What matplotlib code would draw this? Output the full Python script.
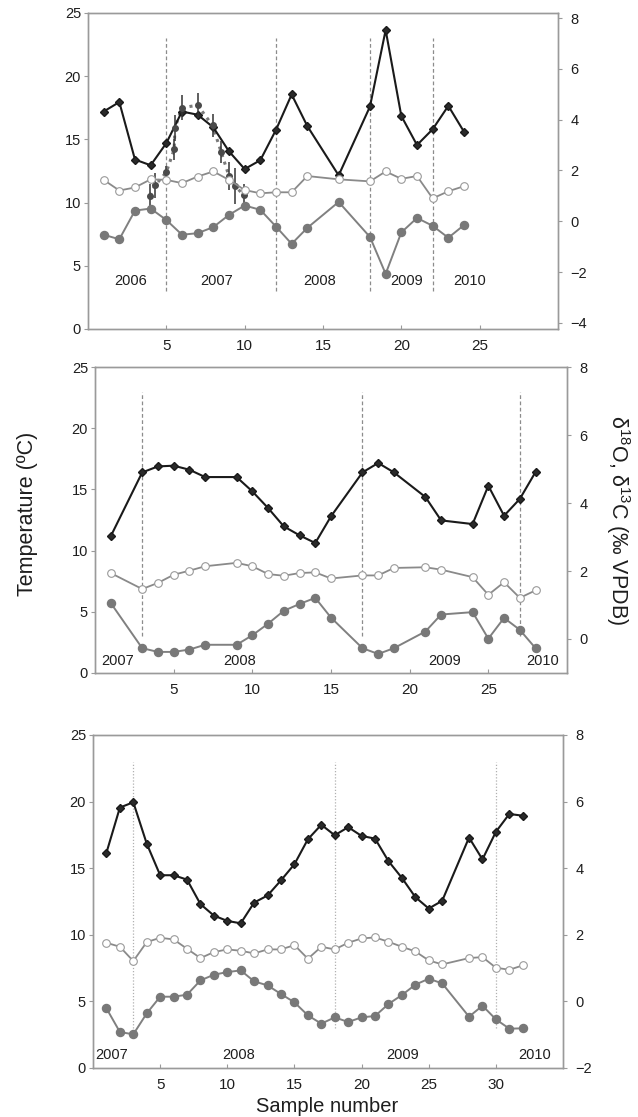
import matplotlib
matplotlib.use('Agg')
import matplotlib.pyplot as plt

plt.rcParams['font.family'] = ['Liberation Sans', 'DejaVu Sans']
plt.rcParams['mathtext.default'] = 'regular'

# ---- panel 1 ----
p1_x = [1, 2, 3, 4, 5, 6, 7, 8, 9, 10, 11, 12, 13, 14, 16, 18, 19, 20, 21, 22, 23, 24]
p1_temp = [17.2, 17.95, 13.4, 12.95, 14.7, 17.2, 16.95, 15.95, 14.05, 12.65, 13.35,
           15.75, 18.55, 16.05, 12.15, 17.6, 23.65, 16.85, 14.55, 15.8, 17.65, 15.6]
p1_d13c = [1.63, 1.21, 1.33, 1.65, 1.63, 1.50, 1.76, 1.96, 1.63, 1.23, 1.10,
           1.14, 1.14, 1.78, 1.65, 1.57, 1.96, 1.67, 1.78, 0.90, 1.18, 1.38]
p1_d18o = [-0.53, -0.71, 0.42, 0.50, 0.05, -0.53, -0.47, -0.23, 0.25, 0.62, 0.45,
           -0.21, -0.89, -0.26, 0.76, -0.62, -2.07, -0.44, 0.13, -0.18, -0.65, -0.15]
# measured temperature with error bars (panel 1 only)
p1_meas_x = [3.96, 4.28, 5.0, 5.5, 5.55, 6.0, 7.0, 7.95, 8.5, 9.0, 9.4, 9.93]
p1_meas_t = [10.55, 11.35, 12.4, 14.2, 15.9, 17.5, 17.7, 16.1, 14.0, 12.1, 11.3, 10.6]
p1_meas_err = [0.9, 1.0, 0.5, 0.8, 1.0, 1.0, 1.0, 0.9, 0.9, 1.1, 1.4, 0.9]
p1_bounds = [5, 12, 18, 22]
p1_years = ['2006', '2007', '2008', '2009', '2010']
p1_year_x = [2.73, 8.2, 14.76, 20.36, 24.35]

# ---- panel 2 ----
p2_x = [1, 3, 4, 5, 6, 7, 9, 10, 11, 12, 13, 14, 15, 17, 18, 19, 21, 22, 24, 25, 26, 27, 28]
p2_temp = [11.17, 16.39, 16.88, 16.94, 16.61, 16.01, 16.01, 14.84, 13.48, 11.98, 11.25,
           10.62, 12.8, 16.39, 17.16, 16.39, 14.38, 12.47, 12.17, 15.3, 12.85, 14.22, 16.42]
p2_d13c = [1.94, 1.47, 1.65, 1.89, 2.01, 2.14, 2.24, 2.14, 1.91, 1.86, 1.94, 1.96,
           1.78, 1.87, 1.87, 2.09, 2.11, 2.04, 1.82, 1.30, 1.67, 1.21, 1.43]
p2_d18o = [1.06, -0.27, -0.38, -0.38, -0.31, -0.17, -0.17, 0.11, 0.45, 0.83, 1.03, 1.21,
           0.63, -0.27, -0.44, -0.27, 0.22, 0.72, 0.79, 0.01, 0.62, 0.27, -0.27]
p2_bounds = [3, 17, 27]
p2_years = ['2007', '2008', '2009', '2010']
p2_year_x = [1.43, 9.18, 22.2, 28.46]

# ---- panel 3 ----
p3_x = list(range(1, 27)) + [28, 29, 30, 31, 32]
p3_temp = [16.16, 19.55, 19.95, 16.84, 14.47, 14.47, 14.14, 12.3, 11.44, 11.04, 10.86,
           12.42, 12.95, 14.09, 15.3, 17.17, 18.26, 17.47, 18.08, 17.42, 17.22, 15.53,
           14.27, 12.83, 11.97, 12.55, 17.3, 15.66, 17.73, 19.07, 18.94]
p3_d13c = [1.76, 1.64, 1.21, 1.78, 1.91, 1.86, 1.58, 1.30, 1.48, 1.56, 1.52, 1.44,
           1.56, 1.56, 1.69, 1.28, 1.64, 1.56, 1.76, 1.89, 1.92, 1.79, 1.64, 1.50,
           1.23, 1.11, 1.30, 1.33, 1.01, 0.95, 1.08]
p3_d18o = [-0.21, -0.92, -0.99, -0.36, 0.14, 0.14, 0.20, 0.63, 0.80, 0.88, 0.93, 0.60,
           0.48, 0.22, -0.03, -0.42, -0.67, -0.48, -0.62, -0.48, -0.44, -0.08, 0.19,
           0.50, 0.68, 0.54, -0.46, -0.13, -0.54, -0.82, -0.81]
p3_bounds = [3, 18, 30]
p3_years = ['2007', '2008', '2009', '2010']
p3_year_x = [1.38, 10.84, 23.06, 32.9]

SPINE = '#9a9a9a'
TXT = '#1e1e1e'

fig = plt.figure(figsize=(6.38, 11.17), dpi=100)


def draw_panel(rect, x, temp, d13c, d18o, xlim, rlim, xticks, rticks,
               bounds, years, year_x, year_y, bound_ls, bound_col):
    ax = fig.add_axes(rect)
    ax2 = ax.twinx()

    for b in bounds:
        ax.plot([b, b], [3, 23], ls=bound_ls, color=bound_col, lw=0.9, zorder=1)

    ax.plot(x, temp, '-', color='#1a1a1a', lw=1.5, marker='D', ms=4.5,
            mfc='#2a2a2a', mec='#1a1a1a', zorder=5)
    ax2.plot(x, d13c, '-', color='#8a8a8a', lw=1.3, marker='o', ms=5.5,
             mfc='white', mec='#9a9a9a', mew=0.8, zorder=4)
    ax2.plot(x, d18o, '-', color='#808080', lw=1.4, marker='o', ms=5.8,
             mfc='#787878', mec='#787878', zorder=4)

    for yr, yx in zip(years, year_x):
        ax.text(yx, year_y, yr, ha='center', va='center', fontsize=10.5, color=TXT)

    ax.set_xlim(xlim)
    ax.set_ylim(0, 25)
    ax2.set_ylim(rlim)
    ax.set_xticks(xticks)
    ax.set_yticks([0, 5, 10, 15, 20, 25])
    ax2.set_yticks(rticks)
    ax.tick_params(axis='x', direction='in', length=3, color=SPINE, labelsize=11,
                   pad=7, labelcolor=TXT)
    ax.tick_params(axis='y', direction='out', length=3, color=SPINE, labelsize=10.5,
                   pad=2, labelcolor=TXT)
    ax2.tick_params(axis='y', direction='out', length=3, color=SPINE, labelsize=10.5,
                    pad=6, labelcolor=TXT)
    for a in (ax, ax2):
        for s in a.spines.values():
            s.set_color(SPINE)
            s.set_linewidth(1.0)
    return ax


ax1 = draw_panel([0.1379, 0.7055, 0.7367, 0.2829], p1_x, p1_temp, p1_d13c, p1_d18o,
                 (0, 30), (-4.24, 8.2), [5, 10, 15, 20, 25], [-4, -2, 0, 2, 4, 6, 8],
                 p1_bounds, p1_years, p1_year_x, 3.8, (0, (3, 2)), '#8c8c8c')
ax1.plot(p1_meas_x, p1_meas_t, ls=(0, (1, 1.6)), color='#7a7a7a', lw=2.2, zorder=3)
ax1.errorbar(p1_meas_x, p1_meas_t, yerr=p1_meas_err, fmt='o', ms=4, color='#4a4a4a',
             ecolor='#333333', elinewidth=1.1, capsize=0, zorder=6)

draw_panel([0.1489, 0.3975, 0.7398, 0.2739], p2_x, p2_temp, p2_d13c, p2_d18o,
           (0, 30), (-1, 8), [5, 10, 15, 20, 25], [0, 2, 4, 6, 8],
           p2_bounds, p2_years, p2_year_x, 0.95, (0, (3, 2)), '#8c8c8c')

ax3 = draw_panel([0.1458, 0.0439, 0.7367, 0.2981], p3_x, p3_temp, p3_d13c, p3_d18o,
                 (0, 35), (-2, 8), [5, 10, 15, 20, 25, 30], [-2, 0, 2, 4, 6, 8],
                 p3_bounds, p3_years, p3_year_x, 1.0, (0, (1, 1.5)), '#b0b0b0')

fig.text(28 / 638, 1 - 514 / 1117, 'Temperature (ºC)', rotation=90, ha='center',
         va='center', fontsize=15.5, color=TXT)
fig.text(618 / 638, 1 - 520 / 1117, 'δ$^{18}$O, δ$^{13}$C (‰ VPDB)', rotation=-90,
         ha='center', va='center', fontsize=15.5, color=TXT)
fig.text(327 / 638, 1 - 1107 / 1117, 'Sample number', ha='center', va='center',
         fontsize=14.5, color=TXT)

plt.savefig('out.png', dpi=100)
